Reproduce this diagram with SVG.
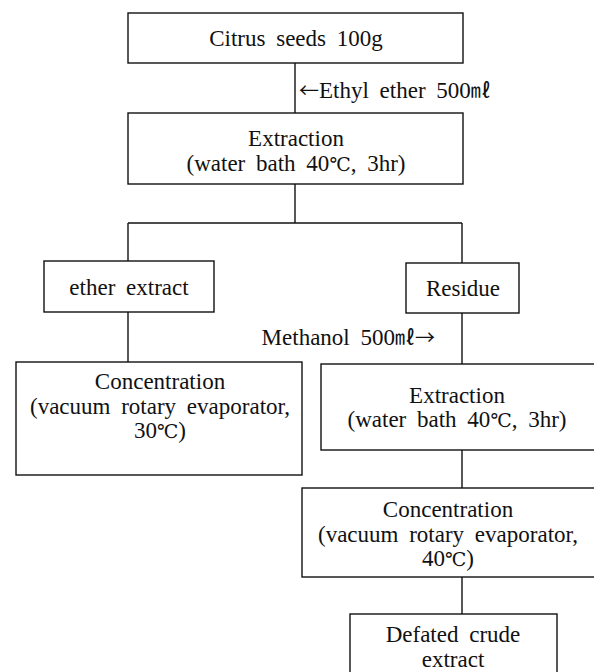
<svg xmlns="http://www.w3.org/2000/svg" width="594" height="672" viewBox="0 0 594 672">
<style>
rect{fill:#fff;stroke:#111;stroke-width:1.4}
.c line{stroke:#111;stroke-width:1.4}
text{font-family:"Liberation Serif","Noto Sans CJK KR",serif;font-size:23px;fill:#111;word-spacing:5px}
.m{text-anchor:middle}
.k{font-family:"Noto Sans CJK KR","Noto Sans CJK JP",sans-serif;font-size:20px}
.d{font-family:"DejaVu Serif","Noto Sans CJK KR",serif;font-size:19px}
</style>
<rect x="0" y="0" width="594" height="672" style="stroke:none"/>
<g class="c" id="connectors">
<line x1="295" y1="63" x2="295" y2="113"/>
<line x1="295" y1="184" x2="295" y2="223"/>
<line x1="128" y1="223" x2="462" y2="223"/>
<line x1="128" y1="223" x2="128" y2="261"/>
<line x1="462" y1="223" x2="462" y2="263"/>
<line x1="128" y1="312" x2="128" y2="362"/>
<line x1="462" y1="313" x2="462" y2="364"/>
<line x1="462" y1="450" x2="462" y2="488"/>
<line x1="462" y1="577" x2="462" y2="614"/>
</g>
<g id="citrus"><rect x="128" y="13" width="335" height="50"/><text class="m" x="296" y="46">Citrus seeds 100g</text></g>
<g id="ethyl"><text x="299" y="98"><tspan class="k">←</tspan>Ethyl ether 500<tspan class="k">㎖</tspan></text></g>
<g id="extraction1"><rect x="128" y="113" width="335" height="71"/><text class="m" x="296" y="146">Extraction</text><text class="m" x="296" y="171">(water bath 40<tspan class="d">℃</tspan>, 3hr)</text></g>
<g id="ether"><rect x="44" y="261" width="170" height="51"/><text class="m" x="129" y="295">ether extract</text></g>
<g id="residue"><rect x="406" y="263" width="113" height="50"/><text class="m" x="463" y="296">Residue</text></g>
<g id="methanol"><text x="435" y="345" style="text-anchor:end">Methanol 500<tspan class="k">㎖→</tspan></text></g>
<g id="conc1"><rect x="16" y="362" width="286" height="113"/><text class="m" x="160" y="389">Concentration</text><text class="m" x="160" y="414">(vacuum rotary evaporator,</text><text class="m" x="160" y="438">30<tspan class="d">℃</tspan>)</text></g>
<g id="extraction2"><rect x="321" y="364" width="290" height="86"/><text class="m" x="457" y="403">Extraction</text><text class="m" x="457" y="427">(water bath 40<tspan class="d">℃</tspan>, 3hr)</text></g>
<g id="conc2"><rect x="302" y="488" width="310" height="89"/><text class="m" x="448" y="517">Concentration</text><text class="m" x="448" y="542">(vacuum rotary evaporator,</text><text class="m" x="448" y="566">40<tspan class="d">℃</tspan>)</text></g>
<g id="defated"><rect x="350" y="614" width="207" height="70"/><text class="m" x="453" y="642">Defated crude</text><text class="m" x="453" y="667">extract</text></g>
</svg>
